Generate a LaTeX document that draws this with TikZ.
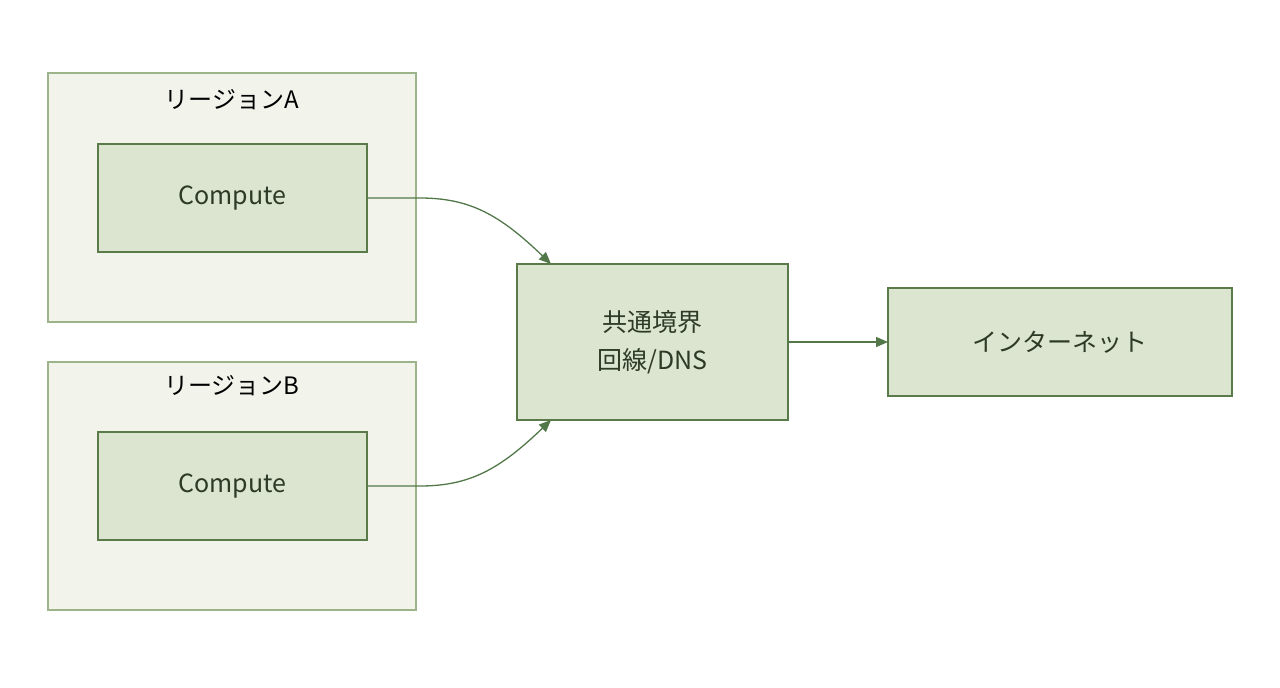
\documentclass[tikz,border=0pt]{standalone}
\usepackage{fontspec}
\setmainfont{Noto Sans CJK JP}
\usetikzlibrary{arrows.meta}
\definecolor{regfill}{HTML}{F2F4EC}
\definecolor{regdraw}{HTML}{9DB38A}
\definecolor{boxfill}{HTML}{DCE5D0}
\definecolor{boxdraw}{HTML}{5A7A4A}
\definecolor{txt}{HTML}{2D3A26}
\definecolor{arr}{HTML}{52784A}
\begin{document}
\begin{tikzpicture}[x=1pt,y=-1pt,
  region/.style={draw=regdraw,fill=regfill,line width=1.2pt},
  box/.style={draw=boxdraw,fill=boxfill,line width=1.2pt},
  lbl/.style={font=\fontsize{24}{28}\selectfont,text=black},
  txt/.style={font=\fontsize{25}{38}\selectfont,text=txt,align=center},
  conn/.style={draw=arr,line width=1.3pt,-{Triangle[length=12pt,width=10pt]}}]
\useasboundingbox (0,0) rectangle (1280,688);
\draw[region] (48,73) rectangle (416,322);
\draw[region] (48,362) rectangle (416,610);
\node[lbl] (la) at (232,100) {リージョンA};
\node[lbl] (lb) at (232,386) {リージョンB};
\draw[box] (98,144) rectangle (367,252);
\node[txt] (ca) at (232.5,198) {Compute};
\draw[box] (98,432) rectangle (367,540);
\node[txt] (cb) at (232.5,486) {Compute};
\draw[box] (517,264) rectangle (788,420);
\node[txt] (c) at (652.5,342) {共通境界\\回線/DNS};
\draw[box] (888,288) rectangle (1232,396);
\node[txt] (i) at (1060,342) {インターネット};
\coordinate (ao) at (367,198);
\coordinate (bo) at (367,486);
\coordinate (ci) at (551,264);
\coordinate (cj) at (551,420);
\coordinate (co) at (788,342);
\coordinate (ii) at (888,342);
\draw[conn] (ao) -- (420,198) .. controls (470,198) and (500,215) .. (ci);
\draw[conn] (bo) -- (420,486) .. controls (470,486) and (500,469) .. (cj);
\draw[conn] (co) -- (ii);
\end{tikzpicture}
\end{document}
